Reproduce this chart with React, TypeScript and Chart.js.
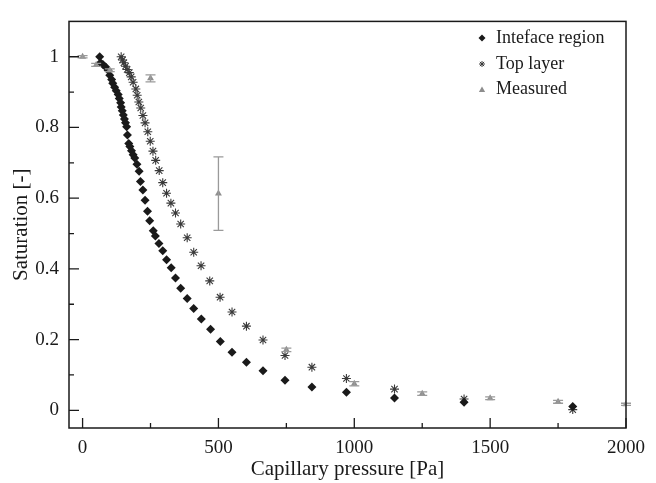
import { useEffect, useRef } from 'react';
import { Chart, registerables } from 'chart.js';

Chart.register(...registerables);

// Interface region saturation curve
const interfacePressure = [
  63, 66, 75, 85, 94, 100, 107, 111, 118, 124, 131, 135, 140, 142, 146, 150, 154, 158, 162, 165,
  170, 174, 180, 186, 192, 200, 208, 213, 222, 230, 239, 247, 260, 268, 281, 295, 309, 326, 342,
  361, 385, 409, 437, 471, 507, 550, 603, 664, 745, 844, 971, 1148, 1404, 1804,
];
const interfaceSaturation = [
  1.0, 0.983, 0.978, 0.971, 0.962, 0.948, 0.936, 0.925, 0.914, 0.904, 0.893, 0.882, 0.87, 0.858,
  0.847, 0.835, 0.824, 0.813, 0.802, 0.779, 0.755, 0.746, 0.734, 0.723, 0.714, 0.696, 0.676,
  0.647, 0.623, 0.594, 0.563, 0.536, 0.508, 0.493, 0.472, 0.451, 0.426, 0.403, 0.374, 0.345,
  0.316, 0.288, 0.258, 0.229, 0.195, 0.164, 0.136, 0.112, 0.085, 0.066, 0.051, 0.035, 0.023,
  0.011,
];

// Top layer saturation curve
const topPressure = [
  142, 147, 152, 158, 164, 172, 179, 186, 196, 201, 207, 214, 222, 230, 240, 249, 259, 269, 282,
  295, 309, 325, 342, 361, 385, 409, 436, 468, 506, 550, 603, 664, 745, 844, 971, 1148, 1404,
  1804,
];
const topSaturation = [
  1.0, 0.991, 0.983, 0.973, 0.964, 0.955, 0.943, 0.928, 0.909, 0.891, 0.872, 0.855, 0.834, 0.813,
  0.788, 0.761, 0.733, 0.707, 0.678, 0.644, 0.614, 0.586, 0.558, 0.527, 0.488, 0.447, 0.409,
  0.366, 0.32, 0.278, 0.238, 0.199, 0.155, 0.122, 0.09, 0.06, 0.032, 0.002,
];

// Measured saturation with error half-widths
const measuredPressure = [0, 50, 100, 250, 500, 750, 1000, 1250, 1500, 1750, 2000];
const measuredSaturation = [1.0, 0.977, 0.962, 0.939, 0.613, 0.171, 0.075, 0.047, 0.034, 0.024, 0.017];
const measuredError = [0.003, 0.004, 0.004, 0.01, 0.104, 0.005, 0.006, 0.005, 0.004, 0.004, 0.003];

const xTickValues = [0, 250, 500, 750, 1000, 1250, 1500, 1750, 2000];
const xTickLabels = ['0', '', '500', '', '1000', '', '1500', '', '2000'];
const yTickValues = [0, 0.1, 0.2, 0.3, 0.4, 0.5, 0.6, 0.7, 0.8, 0.9, 1.0];
const yTickLabels = ['0', '', '0.2', '', '0.4', '', '0.6', '', '0.8', '', '1'];

const seriesNames = ['Inteface region', 'Top layer', 'Measured'];

const FONT = '"Liberation Serif", "Times New Roman", serif';
const INK = '#1a1a1a';
const MEASURED_GREY = '#8d8d8d';
const STAR_GREY = '#3a3a3a';

function toPoints(xs: number[], ys: number[]) {
  return xs.map((x, i) => ({ x, y: ys[i] }));
}

function drawDiamond(ctx: CanvasRenderingContext2D, x: number, y: number, r: number) {
  ctx.beginPath();
  ctx.moveTo(x, y - r);
  ctx.lineTo(x + r, y);
  ctx.lineTo(x, y + r);
  ctx.lineTo(x - r, y);
  ctx.closePath();
  ctx.fillStyle = INK;
  ctx.fill();
}

function drawStar(ctx: CanvasRenderingContext2D, x: number, y: number, r: number) {
  ctx.beginPath();
  for (let k = 0; k < 4; k++) {
    const a = (k * Math.PI) / 4;
    ctx.moveTo(x - r * Math.cos(a), y - r * Math.sin(a));
    ctx.lineTo(x + r * Math.cos(a), y + r * Math.sin(a));
  }
  ctx.strokeStyle = STAR_GREY;
  ctx.lineWidth = 1;
  ctx.stroke();
}

function drawTriangle(ctx: CanvasRenderingContext2D, x: number, y: number, r: number) {
  ctx.beginPath();
  ctx.moveTo(x, y - r);
  ctx.lineTo(x + r * 0.9, y + r * 0.6);
  ctx.lineTo(x - r * 0.9, y + r * 0.6);
  ctx.closePath();
  ctx.fillStyle = MEASURED_GREY;
  ctx.fill();
}

const frameAndTicks = {
  id: 'frameAndTicks',
  afterDatasetsDraw(chart: any) {
    const { ctx, chartArea, scales } = chart;
    const xs = scales.x;
    const ys = scales.y;
    ctx.save();

    // error bars for the measured series
    ctx.strokeStyle = '#9a9a9a';
    ctx.lineWidth = 1.3;
    measuredPressure.forEach((p, i) => {
      const px = xs.getPixelForValue(p);
      const top = ys.getPixelForValue(measuredSaturation[i] + measuredError[i]);
      const bot = ys.getPixelForValue(measuredSaturation[i] - measuredError[i]);
      ctx.beginPath();
      ctx.moveTo(px, top);
      ctx.lineTo(px, bot);
      ctx.moveTo(px - 5, top);
      ctx.lineTo(px + 5, top);
      ctx.moveTo(px - 5, bot);
      ctx.lineTo(px + 5, bot);
      ctx.stroke();
    });

    // frame
    ctx.strokeStyle = INK;
    ctx.lineWidth = 1.5;
    ctx.strokeRect(chartArea.left, chartArea.top, chartArea.right - chartArea.left, chartArea.bottom - chartArea.top);

    // inward ticks
    ctx.lineWidth = 1.3;
    ctx.beginPath();
    xTickValues.forEach((v, i) => {
      const px = xs.getPixelForValue(v);
      const len = xTickLabels[i] ? 10 : 5;
      ctx.moveTo(px, chartArea.bottom);
      ctx.lineTo(px, chartArea.bottom - len);
    });
    yTickValues.forEach((v, i) => {
      const py = ys.getPixelForValue(v);
      const len = yTickLabels[i] ? 10 : 5;
      ctx.moveTo(chartArea.left, py);
      ctx.lineTo(chartArea.left + len, py);
    });
    ctx.stroke();

    // legend
    const lx = 482;
    const tx = 496;
    const rows = [38, 64, 89];
    drawDiamond(ctx, lx, rows[0], 3.5);
    drawStar(ctx, lx, rows[1], 3);
    drawTriangle(ctx, lx, rows[2] + 1, 3.5);
    ctx.fillStyle = INK;
    ctx.font = `18px ${FONT}`;
    ctx.textBaseline = 'middle';
    ctx.textAlign = 'left';
    seriesNames.forEach((name, i) => ctx.fillText(name, tx, rows[i]));

    ctx.restore();
  },
};

export default function App() {
  const canvasRef = useRef<HTMLCanvasElement | null>(null);

  useEffect(() => {
    const canvas = canvasRef.current;
    if (!canvas) return;
    const chart = new Chart(canvas, {
      type: 'scatter',
      data: {
        datasets: [
          {
            label: seriesNames[0],
            data: toPoints(interfacePressure, interfaceSaturation),
            pointStyle: 'rectRot',
            pointRadius: 4.5,
            backgroundColor: INK,
            borderColor: INK,
            borderWidth: 0,
            order: 1,
          },
          {
            label: seriesNames[1],
            data: toPoints(topPressure, topSaturation),
            pointStyle: 'star',
            pointRadius: 4.5,
            backgroundColor: STAR_GREY,
            borderColor: STAR_GREY,
            borderWidth: 1.1,
            order: 2,
          },
          {
            label: seriesNames[2],
            data: toPoints(measuredPressure, measuredSaturation),
            pointStyle: 'triangle',
            pointRadius: 4,
            backgroundColor: MEASURED_GREY,
            borderColor: MEASURED_GREY,
            borderWidth: 0,
            order: 0,
          },
        ],
      },
      options: {
        responsive: false,
        animation: false,
        devicePixelRatio: 1,
        layout: { padding: { left: 0, right: 30, top: 10, bottom: 0 } },
        plugins: {
          legend: { display: false },
          tooltip: { enabled: false },
        },
        scales: {
          x: {
            type: 'linear',
            min: -50,
            max: 2000,
            afterBuildTicks: (scale: any) => {
              scale.ticks = xTickValues.map((value) => ({ value }));
            },
            afterFit: (scale: any) => {
              scale.height = 55;
            },
            grid: { display: false, drawTicks: false },
            border: { display: false },
            ticks: {
              autoSkip: false,
              maxRotation: 0,
              padding: 9,
              color: INK,
              font: { family: FONT, size: 19 },
              callback: (_v: any, i: number) => xTickLabels[i],
            },
            title: {
              display: true,
              text: 'Capillary pressure [Pa]',
              color: INK,
              font: { family: FONT, size: 21 },
              padding: { top: 0, bottom: 1 },
            },
          },
          y: {
            type: 'linear',
            min: -0.05,
            max: 1.1,
            afterBuildTicks: (scale: any) => {
              scale.ticks = yTickValues.map((value) => ({ value }));
            },
            afterFit: (scale: any) => {
              scale.width = 69;
            },
            grid: { display: false, drawTicks: false },
            border: { display: false },
            ticks: {
              autoSkip: false,
              padding: 10,
              color: INK,
              font: { family: FONT, size: 19 },
              callback: (_v: any, i: number) => yTickLabels[i],
            },
            title: {
              display: true,
              text: 'Saturation [-]',
              color: INK,
              font: { family: FONT, size: 21 },
              padding: { top: 9, bottom: 0 },
            },
          },
        },
      },
      plugins: [frameAndTicks],
    });
    return () => chart.destroy();
  }, []);

  return (
    <div style={{ position: 'fixed', left: 0, top: 0, width: 656, height: 483, background: '#fff' }}>
      <canvas ref={canvasRef} width={656} height={483} />
    </div>
  );
}
